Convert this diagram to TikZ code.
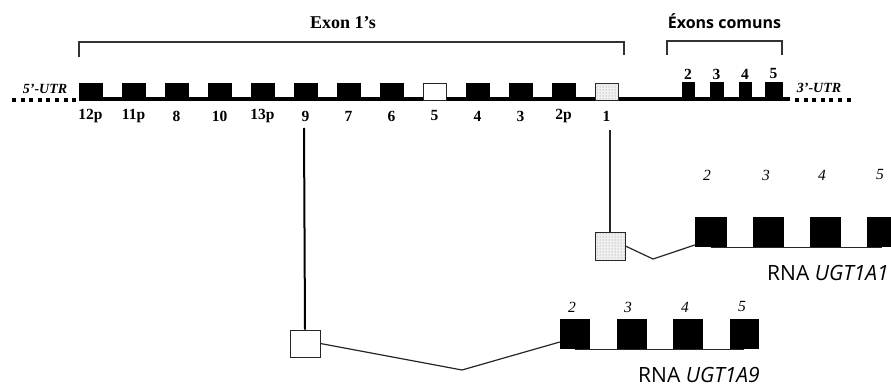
\documentclass[tikz,border=0pt]{standalone}
\usepackage{fontspec}
\setmainfont{Liberation Serif}
\newfontfamily\osans{Open Sans}
\usetikzlibrary{patterns}
\tikzset{
  exb/.style={draw=black, fill=black, line width=0.8pt, inner sep=0pt, minimum width=23pt, minimum height=17pt},
  exw/.style={draw=black!85, fill=white, line width=0.8pt, inner sep=0pt, minimum width=23pt, minimum height=17pt},
  exd/.style={draw=black!85, fill=gray!12, line width=0.8pt, inner sep=0pt, minimum width=23pt, minimum height=17pt,
              postaction={pattern=dots, pattern color=gray!90}},
  lab/.style={font=\fontsize{15.5}{18}\selectfont\bfseries, inner sep=0pt},
  ilab/.style={font=\fontsize{15.5}{18}\selectfont\itshape, inner sep=0pt},
  utr/.style={font=\fontsize{14}{17}\selectfont\bfseries\itshape, inner sep=0pt},
  brk/.style={line width=1.2pt, draw=black!80},
  thin/.style={line width=1.2pt, draw=black!85},
  rexon/.style={draw=black, fill=black, inner sep=0pt, minimum width=30pt, minimum height=29pt},
  rna/.style={font=\osans\fontsize{21}{25}\selectfont, inner sep=0pt, anchor=west},
}
\begin{document}
\begin{tikzpicture}[x=1pt, y=-1pt]
\useasboundingbox (0,0) rectangle (891,387);
\clip (0,0) rectangle (891,387);
\fill[white] (0,0) rectangle (891,387);

% backbone
\coordinate (bbL) at (79,99);
\coordinate (bbR) at (790,99);
\draw[line width=4pt] (bbL) -- (bbR);
\coordinate (uL1) at (12,100); \coordinate (uL2) at (76,100);
\coordinate (uR1) at (795,100); \coordinate (uR2) at (852,100);
\draw[line width=4pt, dash pattern=on 4pt off 4.6pt] (uL1) -- (uL2);
\draw[line width=4pt, dash pattern=on 4pt off 4.6pt] (uR1) -- (uR2);

% exon 1's
\foreach \n/\s [count=\i from 0] in {12p/exb,11p/exb,8/exb,10/exb,13p/exb,9/exb,7/exb,6/exb,5/exw,4/exb,3/exb,2p/exb,1/exd} {
  \node[\s] (g\n) at ({90.5+43*\i},91.5) {};
  \node[lab] (l\n) at ({90.5+43*\i},116) {\n};
}

% common exons
\node[exb, minimum width=12pt, minimum height=18pt] (c2) at (688,91) {};
\node[exb, minimum width=13pt, minimum height=18pt] (c3) at (716.5,91) {};
\node[exb, minimum width=12pt, minimum height=18pt] (c4) at (745,91) {};
\node[exb, minimum width=17pt, minimum height=18pt] (c5) at (773.5,91) {};
\node[lab] (lc2) at (688,74) {2};
\node[lab] (lc3) at (716.5,74) {3};
\node[lab] (lc4) at (745,74) {4};
\node[lab] (lc5) at (773.5,74) {5};

\node[utr] (u5) at (45,89) {5’-UTR};
\node[utr] (u3) at (819,88) {3’-UTR};

% brackets
\coordinate (b1a) at (79,57); \coordinate (b1b) at (79,42);
\coordinate (b1c) at (624,42); \coordinate (b1d) at (624,55);
\draw[brk] (b1a) -- (b1b) -- (b1c) -- (b1d);
\coordinate (b2a) at (667,55); \coordinate (b2b) at (667,41);
\coordinate (b2c) at (782,41); \coordinate (b2d) at (782,55);
\draw[brk] (b2a) -- (b2b) -- (b2c) -- (b2d);
\node[font=\fontsize{18}{21}\selectfont\bfseries, inner sep=0pt] (t1) at (343,23) {Exon 1’s};
\node[font=\osans\bfseries\fontsize{16}{19}\selectfont, inner sep=0pt] (t2) at (724.5,21) {Éxons comuns};

% RNA UGT1A1
\node[exd, minimum width=30pt, minimum height=28pt] (d1) at (610,246) {};
\node[rexon, minimum width=31pt] (a2) at (710.5,231.5) {};
\node[rexon] (a3) at (768,231.5) {};
\node[rexon] (a4) at (825,231.5) {};
\node[rexon] (a5) at (882,231.5) {};
\draw[thin] ([yshift=-1pt]a2.south) -- ([yshift=-1pt]a5.south);
\coordinate (v1) at (653,259);
\draw[thin] (d1.east) -- (v1) -- ([yshift=-13.5pt]a2.west);
\coordinate (s1) at (610,130);
\draw[thin] (s1) -- (d1.north);
\node[ilab] (la2) at (707,175) {2};
\node[ilab] (la3) at (766,175) {3};
\node[ilab] (la4) at (822,175) {4};
\node[ilab] (la5) at (880,175) {5};
\node[rna] (r1) at (767,273) {RNA \textit{UGT1A1}};

% RNA UGT1A9
\node[exw, minimum width=30pt, minimum height=27pt] (w9) at (305,343.5) {};
\node[rexon, minimum width=29pt] (b2) at (574.5,333.5) {};
\node[rexon, minimum width=29pt] (b3) at (631.5,333.5) {};
\node[rexon, minimum width=29pt] (b4) at (687.5,333.5) {};
\node[rexon, minimum width=28pt] (b5) at (744,333.5) {};
\draw[thin] ([yshift=-1pt]b2.south) -- ([yshift=-1pt]b5.south);
\coordinate (v9) at (462,370);
\draw[thin] (w9.east) -- (v9) -- ([yshift=-8.5pt]b2.west);
\coordinate (s9) at (304,128);
\draw[line width=2pt] (s9) -- (w9.north);
\node[ilab] (lb2) at (572,307) {2};
\node[ilab] (lb3) at (628,307) {3};
\node[ilab] (lb4) at (685,307) {4};
\node[ilab] (lb5) at (742,307) {5};
\node[rna] (r9) at (638,374.5) {RNA \textit{UGT1A9}};
\end{tikzpicture}
\end{document}
